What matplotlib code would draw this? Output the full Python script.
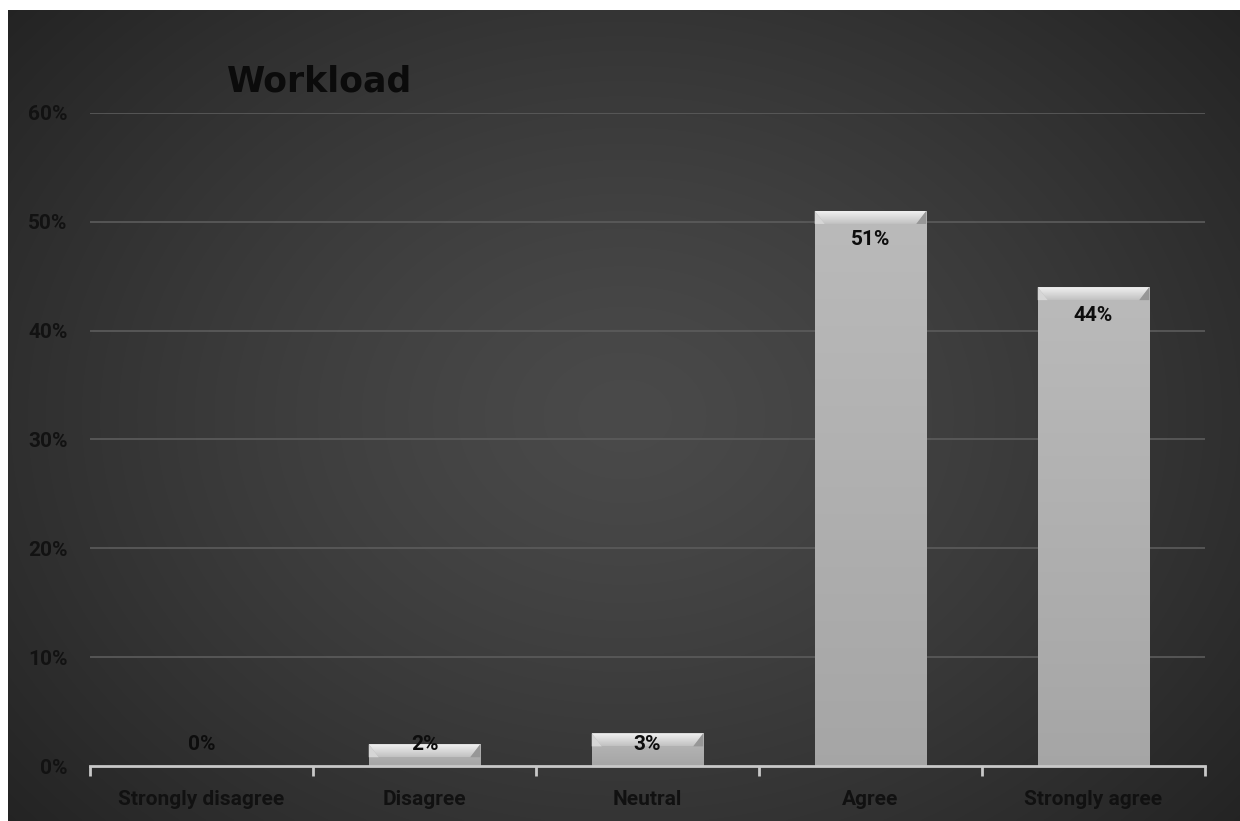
import numpy as np
import matplotlib
matplotlib.use("Agg")
import matplotlib.pyplot as plt
from matplotlib.patches import Polygon

categories = ["Strongly disagree", "Disagree", "Neutral", "Agree", "Strongly agree"]
values = [0.00, 0.02, 0.03, 0.51, 0.44]
labels = ["0%", "2%", "3%", "51%", "44%"]
yticks = [0, 0.1, 0.2, 0.3, 0.4, 0.5, 0.6]
ytick_labels = ["0%", "10%", "20%", "30%", "40%", "50%", "60%"]

FONT = ["Roboto", "DejaVu Sans"]

W, H = 1240, 821
fig = plt.figure(figsize=(W / 100, H / 100), dpi=100)
fig.patch.set_facecolor("white")

# dark radial backdrop
bg = fig.add_axes([8 / W, 0, (W - 8) / W, (H - 10) / H])
bg.set_axis_off()
yy, xx = np.mgrid[0:400, 0:600]
cx, cy = 300, 200
r = np.sqrt(((xx - cx) / 330) ** 2 + ((yy - cy) / 260) ** 2)
shade = 0.29 - 0.12 * np.clip(r, 0, 1.6) ** 1.3
bg.imshow(np.dstack([shade] * 3), aspect="auto", extent=[0, 1, 0, 1],
          interpolation="bilinear")
bg.set_xlim(0, 1)
bg.set_ylim(0, 1)

ax = fig.add_axes([90 / W, 55 / H, 1115 / W, 653 / H])
ax.patch.set_alpha(0)
x = np.arange(len(categories))

for t in yticks[1:]:
    ax.axhline(t, color="#5c5c5c", lw=1.2, zorder=1)

bw = 0.5
bars = ax.bar(x, values, width=bw, color="#b0b0b0", zorder=3, linewidth=0)

# body gradient and bevelled top on each bar
px_x = len(categories) / 1115
px_y = 0.6 / 653
for b, v in zip(bars, values):
    if v <= 0:
        continue
    x0, x1 = b.get_x(), b.get_x() + b.get_width()
    h = min(13 * px_y, v * 0.6)
    d = 10 * px_x
    col = np.linspace(0.65, 0.73, 60)[:, None]
    body = np.dstack([np.repeat(col, 2, axis=1)] * 3)
    im = ax.imshow(body, extent=[x0, x1, 0, v], origin="lower", aspect="auto",
                   zorder=3.5, interpolation="bilinear")
    im.set_clip_path(b)

    top = Polygon([[x0, v], [x1, v], [x1 - d, v - h], [x0 + d, v - h]],
                  closed=True, facecolor="none", edgecolor="none", zorder=4)
    ax.add_patch(top)
    tcol = np.linspace(0.76, 0.94, 30)[:, None]
    timg = np.dstack([np.repeat(tcol, 2, axis=1)] * 3)
    tim = ax.imshow(timg, extent=[x0, x1, v - h, v], origin="lower", aspect="auto",
                    zorder=4, interpolation="bilinear")
    tim.set_clip_path(top)
    # side faces of the bevel
    ax.add_patch(Polygon([[x0, v], [x0 + d, v - h], [x0, v - h]],
                         closed=True, facecolor="#d6d6d6", edgecolor="none", zorder=4))
    ax.add_patch(Polygon([[x1, v], [x1 - d, v - h], [x1, v - h]],
                         closed=True, facecolor="#979797", edgecolor="none", zorder=4))

ax.set_xlim(-0.5, len(categories) - 0.5)
ax.set_ylim(0, 0.6)

# value labels
for xi, v, lab in zip(x, values, labels):
    ax.text(xi, max(v - 0.026, 0.02), lab, ha="center", va="center",
            fontsize=15, fontweight="bold", family=FONT,
            color="#0d0d0d", zorder=6)

for s in ["top", "right", "left"]:
    ax.spines[s].set_visible(False)
ax.spines["bottom"].set_color("#c8c8c8")
ax.spines["bottom"].set_linewidth(2)
ax.spines["bottom"].set_zorder(5)

ax.set_xticks(np.arange(len(categories) + 1) - 0.5, minor=False)
ax.set_xticklabels([])
ax.tick_params(axis="x", which="major", length=7, width=2, color="#c8c8c8", direction="out")
ax.set_xticks(x, minor=True)
ax.set_xticklabels(categories, minor=True, fontsize=15, fontweight="bold",
                   family=FONT, color="#111111")
ax.tick_params(axis="x", which="minor", length=0, pad=17)

ax.set_yticks(yticks)
ax.set_yticklabels(ytick_labels, fontsize=15, fontweight="bold",
                   family=FONT, color="#121212")
ax.tick_params(axis="y", length=0, pad=16)

fig.text(320 / W, 1 - 82 / H, "Workload", ha="center", va="center",
         fontsize=25, fontweight="bold", family="DejaVu Sans", color="#0b0b0b")

fig.savefig("out.png", dpi=100)
